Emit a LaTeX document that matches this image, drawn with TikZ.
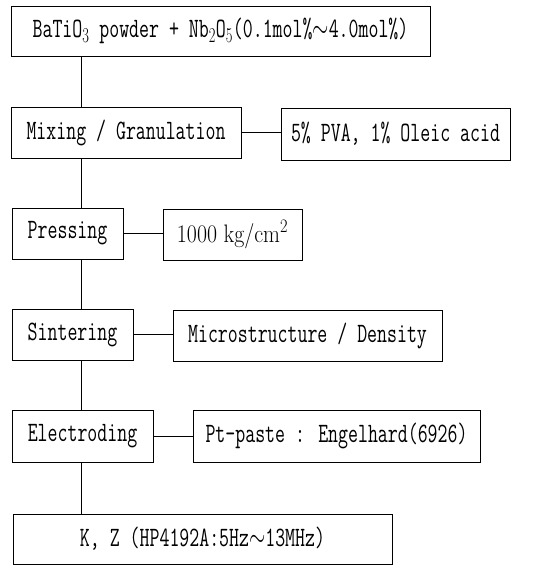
\documentclass[tikz,border=0pt]{standalone}
\usepackage{graphicx}
\newcommand{\tx}[1]{\scalebox{0.84}[1.22]{#1}}
\begin{document}
\begin{tikzpicture}[x=1pt,y=-1pt,
  box/.style={draw,line width=0.9pt,inner sep=0pt,font=\fontsize{23}{25}\selectfont\ttfamily},
  link/.style={line width=0.9pt}]
\useasboundingbox (0,0) rectangle (533,565);
\node[box,minimum width=419pt,minimum height=50pt] (b1) at (220.5,31) {\tx{BaTiO$_3$ powder + Nb$_2$O$_5$(0.1mol\%$\sim$4.0mol\%)}};
\node[box,minimum width=230pt,minimum height=51pt] (b2) at (126,132.5) {\tx{Mixing / Granulation}};
\node[box,minimum width=229pt,minimum height=52pt] (r2) at (395.5,134) {\tx{5\% PVA, 1\% Oleic acid}};
\node[box,minimum width=111pt,minimum height=51pt] (b3) at (67.5,233.5) {\tx{Pressing}};
\node[box,minimum width=139pt,minimum height=51pt] (r3) at (232.5,234.5) {\scalebox{0.95}[1.1]{\rmfamily 1000 kg/cm$^2$}};
\node[box,minimum width=121pt,minimum height=51pt] (b4) at (72.5,334.5) {\tx{Sintering}};
\node[box,minimum width=269pt,minimum height=51pt] (r4) at (307.5,335.5) {\tx{Microstructure / Density}};
\node[box,minimum width=141pt,minimum height=52pt] (b5) at (82.5,436) {\tx{Electroding}};
\node[box,minimum width=287pt,minimum height=52pt] (r5) at (336.5,436) {\tx{Pt-paste : Engelhard(6926)}};
\node[box,minimum width=379pt,minimum height=50pt] (b6) at (202.5,539) {\tx{K, Z (HP4192A:5Hz$\sim$13MHz)}};
\coordinate (spine) at (81,0);
\draw[link] (b1.south -| spine) -- (b2.north -| spine);
\draw[link] (b2.south -| spine) -- (b3.north -| spine);
\draw[link] (b3.south -| spine) -- (b4.north -| spine);
\draw[link] (b4.south -| spine) -- (b5.north -| spine);
\draw[link] (b5.south -| spine) -- (b6.north -| spine);
\draw[link] (b2.east) -- (b2.east -| r2.west);
\draw[link] (b3.east) -- (b3.east -| r3.west);
\draw[link] (b4.east) -- (b4.east -| r4.west);
\draw[link] (b5.east) -- (b5.east -| r5.west);
\end{tikzpicture}
\end{document}
